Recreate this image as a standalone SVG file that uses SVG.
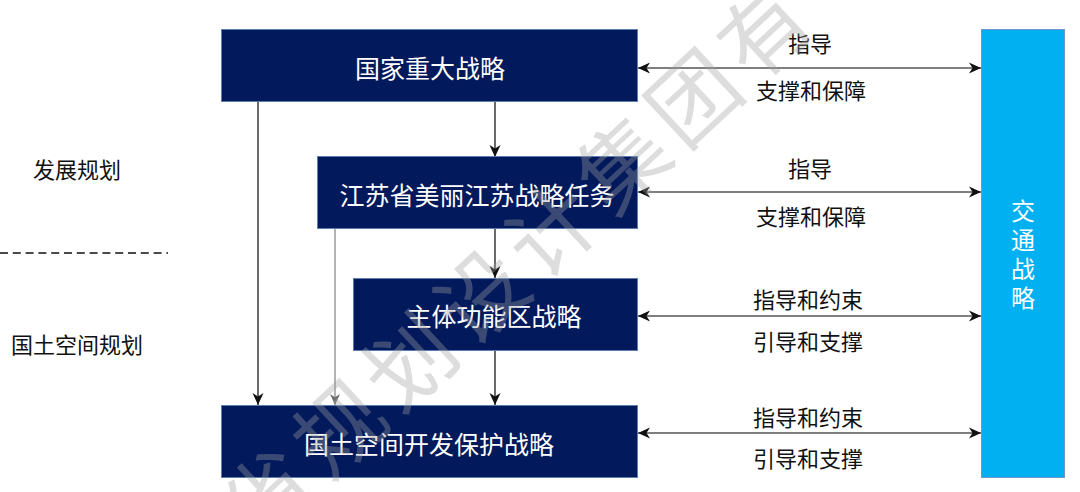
<svg xmlns="http://www.w3.org/2000/svg" width="1080" height="492" viewBox="0 0 1080 492">
  <style>
    .box { fill: #02195C; stroke: #5B7DB1; stroke-width: 1; }
    .side { fill: #00B0F0; stroke: #6F96C8; stroke-width: 1; }
    .bt { font-family: "Noto Sans CJK SC", "Noto Sans", sans-serif; font-size: 25px; fill: #FFFFFF; text-anchor: middle; dominant-baseline: central; }
    .vt { font-family: "Noto Sans CJK SC", "Noto Sans", sans-serif; font-size: 24px; fill: #FFFFFF; writing-mode: vertical-rl; letter-spacing: 5px; }
    .lbl { font-family: "Noto Sans CJK SC", "Noto Sans", sans-serif; font-size: 22px; fill: #111111; text-anchor: middle; dominant-baseline: central; }
    .vline { stroke: #1A1A1A; stroke-width: 1.3; fill: none; }
    .vgray { stroke: #8A8A8A; stroke-width: 1.3; fill: none; }
    .hline { stroke: #555555; stroke-width: 1.5; fill: none; }
    .wm { font-family: "Noto Sans CJK SC", sans-serif; font-size: 88px; fill: #A0A0A0; fill-opacity: 0.36; }
  </style>
  <defs>
    <marker id="ah" viewBox="0 0 12 12" refX="12" refY="6" markerWidth="12" markerHeight="12" markerUnits="userSpaceOnUse" orient="auto-start-reverse">
      <path d="M0,0.5 L12,6 L0,11.5 L3.5,6 z" fill="#111111"/>
    </marker>
    <marker id="ahg" viewBox="0 0 12 12" refX="12" refY="6" markerWidth="11" markerHeight="11" markerUnits="userSpaceOnUse" orient="auto">
      <path d="M0,0.5 L12,6 L0,11.5 L3.5,6 z" fill="#6E6E6E"/>
    </marker>
  </defs>

  <rect x="0" y="0" width="1080" height="492" fill="#FFFFFF"/>

  <g id="label-fazhan">
    <text class="lbl" x="77" y="168">发展规划</text>
  </g>
  <g id="label-guotu">
    <text class="lbl" x="77" y="343">国土空间规划</text>
  </g>
  <g id="divider">
    <line x1="0" y1="253" x2="168" y2="253" stroke="#111111" stroke-width="1.6" stroke-dasharray="8,4.8"/>
  </g>

  <g id="connectors">
    <line class="vline" x1="258" y1="102" x2="258" y2="405" marker-end="url(#ah)"/>
    <line class="vgray" x1="335" y1="229" x2="335" y2="405" marker-end="url(#ahg)"/>
    <line class="vline" x1="495" y1="102" x2="495" y2="157" marker-end="url(#ah)"/>
    <line class="vline" x1="495" y1="229" x2="495" y2="278" marker-end="url(#ah)"/>
    <line class="vline" x1="495" y1="351" x2="495" y2="405" marker-end="url(#ah)"/>

    <line class="hline" x1="638" y1="68" x2="981" y2="68" marker-start="url(#ah)" marker-end="url(#ah)"/>
    <line class="hline" x1="638" y1="192" x2="981" y2="192" marker-start="url(#ah)" marker-end="url(#ah)"/>
    <line class="hline" x1="638" y1="316" x2="981" y2="316" marker-start="url(#ah)" marker-end="url(#ah)"/>
    <line class="hline" x1="638" y1="433" x2="981" y2="433" marker-start="url(#ah)" marker-end="url(#ah)"/>

    <text class="lbl" x="810" y="42">指导</text>
    <text class="lbl" x="811" y="89">支撑和保障</text>
    <text class="lbl" x="810" y="167">指导</text>
    <text class="lbl" x="811" y="215">支撑和保障</text>
    <text class="lbl" x="808" y="298">指导和约束</text>
    <text class="lbl" x="808" y="340">引导和支撑</text>
    <text class="lbl" x="808" y="416">指导和约束</text>
    <text class="lbl" x="808" y="457">引导和支撑</text>
  </g>

  <g id="node-national">
    <rect class="box" x="221.5" y="29.5" width="416" height="72"/>
    <text class="bt" x="430" y="67">国家重大战略</text>
  </g>
  <g id="node-jiangsu">
    <rect class="box" x="317.5" y="156.5" width="320" height="72"/>
    <text class="bt" x="477" y="194">江苏省美丽江苏战略任务</text>
  </g>
  <g id="node-zhuti">
    <rect class="box" x="353.5" y="278.5" width="284" height="72"/>
    <text class="bt" x="494" y="315">主体功能区战略</text>
  </g>
  <g id="node-guotu">
    <rect class="box" x="221.5" y="405.5" width="416" height="72"/>
    <text class="bt" x="429" y="443">国土空间开发保护战略</text>
  </g>
  <g id="node-jiaotong">
    <rect class="side" x="981.5" y="29.5" width="83" height="448"/>
    <text class="vt" x="1023" y="199">交通战略</text>
  </g>

  <g id="watermark">
    <text class="wm" transform="translate(269,496) rotate(-43)" x="-44" y="31" letter-spacing="9">省规划设计集团有</text>
  </g>
</svg>
